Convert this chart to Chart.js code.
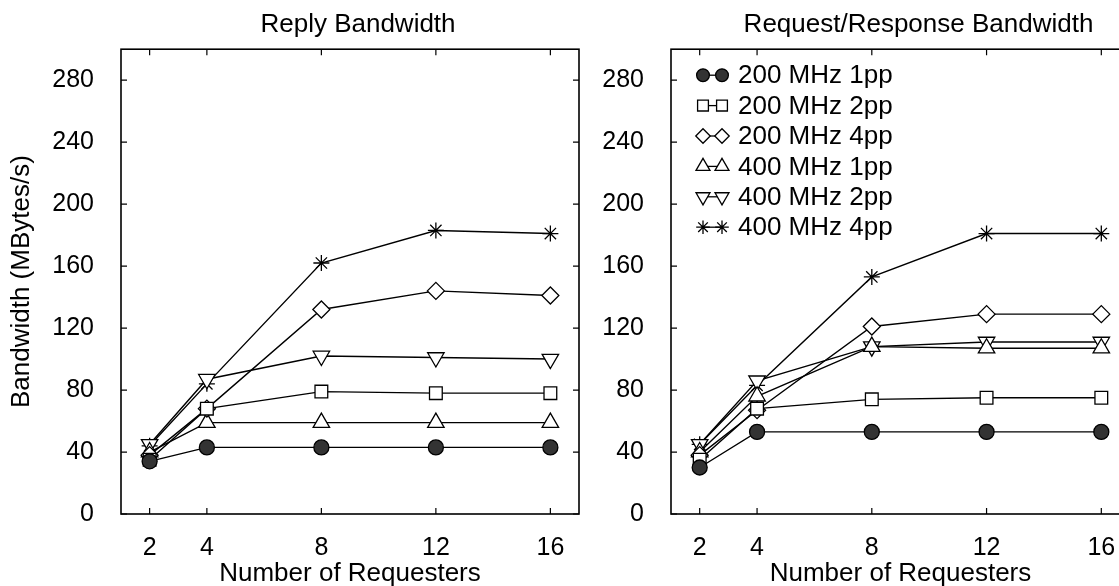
<!DOCTYPE html>
<html>
<head>
<meta charset="utf-8">
<script src="https://cdn.jsdelivr.net/npm/chart.js@4"></script>
<style>
  html, body { margin: 0; padding: 0; background: #fff; overflow: hidden; }
  .panel { position: absolute; top: 0; }
</style>
</head>
<body>
<div class="panel" style="left:0"><canvas id="replyChart" width="590" height="586"></canvas></div>
<div class="panel" style="left:590px"><canvas id="reqRespChart" width="560" height="586"></canvas></div>
<script>
// x values (number of requesters) and axis ticks
var requesters = [2, 4, 8, 12, 16];
var xTickValues = [2, 4, 8, 12, 16];
var yTickValues = [0, 40, 80, 120, 160, 200, 240, 280];

var seriesLabels = ["200 MHz 1pp", "200 MHz 2pp", "200 MHz 4pp", "400 MHz 1pp", "400 MHz 2pp", "400 MHz 4pp"];

// Reply Bandwidth (MBytes/s)
var reply200_1pp = [34, 43, 43, 43, 43];
var reply200_2pp = [35, 68, 79, 78, 78];
var reply200_4pp = [38, 68, 132, 144, 141];
var reply400_1pp = [40, 59, 59, 59, 59];
var reply400_2pp = [45, 87, 102, 101, 100];
var reply400_4pp = [44, 84, 162, 183, 181];

// Request/Response Bandwidth (MBytes/s)
var reqResp200_1pp = [30, 53, 53, 53, 53];
var reqResp200_2pp = [35, 68, 74, 75, 75];
var reqResp200_4pp = [38, 67, 121, 129, 129];
var reqResp400_1pp = [40, 76, 108, 107, 107];
var reqResp400_2pp = [45, 86, 108, 111, 111];
var reqResp400_4pp = [45, 83, 153, 181, 181];

var FONT = '"Liberation Sans", Arial, Helvetica, sans-serif';

// marker look for each series, same order as seriesLabels
var markerStyles = [
    { pointStyle: "circle", radius: 7.5, fill: "#333333", rotation: 0 },
    { pointStyle: "rect", radius: 9, fill: "#ffffff", rotation: 0 },
    { pointStyle: "rectRot", radius: 8.5, fill: "#ffffff", rotation: 0 },
    { pointStyle: "triangle", radius: 9.5, fill: "#ffffff", rotation: 0 },
    { pointStyle: "triangle", radius: 9.5, fill: "#ffffff", rotation: 180 },
    { pointStyle: "star", radius: 8, fill: "#ffffff", rotation: 0 },
];

function buildDatasets(seriesValues) {
    return seriesValues.map(function (values, i) {
        var m = markerStyles[i];
        return {
            label: seriesLabels[i],
            data: values.map(function (v, j) {
                return { x: requesters[j], y: v };
            }),
            borderColor: "#000",
            borderWidth: 1.4,
            pointStyle: m.pointStyle,
            pointRadius: m.radius,
            pointRotation: m.rotation,
            pointBackgroundColor: m.fill,
            pointBorderColor: "#000",
            pointBorderWidth: 1.3,
            fill: false,
            tension: 0,
        };
    });
}

// box round the plot with small ticks pointing inwards on all four sides
var framePlugin = {
    id: "frame",
    beforeDatasetsDraw: function (chart) {
        var ctx = chart.ctx;
        var a = chart.chartArea;
        var sx = chart.scales.x;
        var sy = chart.scales.y;
        ctx.save();
        ctx.strokeStyle = "#000";
        ctx.lineWidth = 1.6;
        ctx.strokeRect(a.left, a.top, a.right - a.left, a.bottom - a.top);
        ctx.lineWidth = 1.2;
        ctx.beginPath();
        sx.ticks.forEach(function (t) {
            var px = sx.getPixelForValue(t.value);
            ctx.moveTo(px, a.bottom);
            ctx.lineTo(px, a.bottom - 6);
            ctx.moveTo(px, a.top);
            ctx.lineTo(px, a.top + 6);
        });
        sy.ticks.forEach(function (t) {
            var py = sy.getPixelForValue(t.value);
            ctx.moveTo(a.left, py);
            ctx.lineTo(a.left + 6, py);
            ctx.moveTo(a.right, py);
            ctx.lineTo(a.right - 6, py);
        });
        ctx.stroke();
        ctx.restore();
    },
};

// nudge the title sideways a little (the original isn't exactly centred on the plot)
var titleShift = {
    id: "titleShift",
    afterLayout: function (chart, args, opts) {
        if (chart.titleBlock && opts.dx) {
            chart.titleBlock.left += opts.dx;
            chart.titleBlock.right += opts.dx;
        }
    },
};

function drawMarker(ctx, m, x, y, scale) {
    ctx.fillStyle = m.fill;
    ctx.strokeStyle = "#000";
    ctx.lineWidth = 1.3;
    Chart.helpers.drawPoint(ctx, {
        pointStyle: m.pointStyle,
        radius: m.radius * scale,
        rotation: m.rotation,
        borderWidth: 1.3,
    }, x, y);
}

// legend drawn inside the plot: marker - line - marker, then label
var insideLegend = {
    id: "insideLegend",
    afterDraw: function (chart) {
        var ctx = chart.ctx;
        var a = chart.chartArea;
        ctx.save();
        chart.data.datasets.forEach(function (ds, i) {
            var y = a.top + 26 + i * 30.4;
            var x1 = a.left + 32;
            var x2 = a.left + 51;
            ctx.strokeStyle = "#000";
            ctx.lineWidth = 1.3;
            ctx.beginPath();
            ctx.moveTo(x1, y);
            ctx.lineTo(x2, y);
            ctx.stroke();
            drawMarker(ctx, markerStyles[i], x1, y, 0.85);
            drawMarker(ctx, markerStyles[i], x2, y, 0.85);
            ctx.fillStyle = "#000";
            ctx.font = "26px " + FONT;
            ctx.textAlign = "left";
            ctx.textBaseline = "middle";
            ctx.fillText(ds.label, a.left + 67, y + 1);
        });
        ctx.restore();
    },
};

function makeChart(canvasId, titleText, seriesValues, yAxisWidth, rightPad, showYTitle, titleDx, extraPlugins) {
    var ctx = document.getElementById(canvasId).getContext("2d");
    return new Chart(ctx, {
        type: "line",
        data: { datasets: buildDatasets(seriesValues) },
        options: {
            responsive: false,
            animation: false,
            events: [],
            layout: { padding: { left: 0, right: rightPad, top: 0, bottom: 0 } },
            plugins: {
                legend: { display: false },
                tooltip: { enabled: false },
                titleShift: { dx: titleDx },
                title: {
                    display: true,
                    text: titleText,
                    fullSize: false,
                    color: "#000",
                    font: { family: FONT, size: 26, weight: "normal", lineHeight: 1.2 },
                    padding: { top: 9, bottom: 9 },
                },
            },
            scales: {
                x: {
                    type: "linear",
                    min: 1,
                    max: 17,
                    grid: { display: false },
                    border: { display: false },
                    afterBuildTicks: function (scale) {
                        scale.ticks = xTickValues.map(function (v) {
                            return { value: v };
                        });
                    },
                    afterFit: function (scale) {
                        scale.height = 72;
                    },
                    ticks: {
                        color: "#000",
                        padding: 11,
                        autoSkip: false,
                        maxRotation: 0,
                        font: { family: FONT, size: 25 },
                    },
                    title: {
                        display: true,
                        text: "Number of Requesters",
                        color: "#000",
                        font: { family: FONT, size: 26, lineHeight: 1.2 },
                        padding: { top: 0, bottom: -3 },
                    },
                },
                y: {
                    type: "linear",
                    min: 0,
                    max: 300,
                    grid: { display: false },
                    border: { display: false },
                    afterBuildTicks: function (scale) {
                        scale.ticks = yTickValues.map(function (v) {
                            return { value: v };
                        });
                    },
                    afterFit: function (scale) {
                        scale.width = yAxisWidth;
                    },
                    ticks: {
                        color: "#000",
                        padding: 19,
                        autoSkip: false,
                        font: { family: FONT, size: 25 },
                    },
                    title: {
                        display: showYTitle,
                        text: "Bandwidth (MBytes/s)",
                        color: "#000",
                        font: { family: FONT, size: 26, lineHeight: 1.2 },
                        padding: { top: 6, bottom: 0 },
                    },
                },
            },
        },
        plugins: [framePlugin, titleShift].concat(extraPlugins),
    });
}

document.addEventListener("DOMContentLoaded", function () {
    makeChart("replyChart", "Reply Bandwidth",
        [reply200_1pp, reply200_2pp, reply200_4pp, reply400_1pp, reply400_2pp, reply400_4pp],
        121, 11, true, 8, []);
    makeChart("reqRespChart", "Request/Response Bandwidth",
        [reqResp200_1pp, reqResp200_2pp, reqResp200_4pp, reqResp400_1pp, reqResp400_2pp, reqResp400_4pp],
        81, 20, false, 18, [insideLegend]);
});
</script>
</body>
</html>
